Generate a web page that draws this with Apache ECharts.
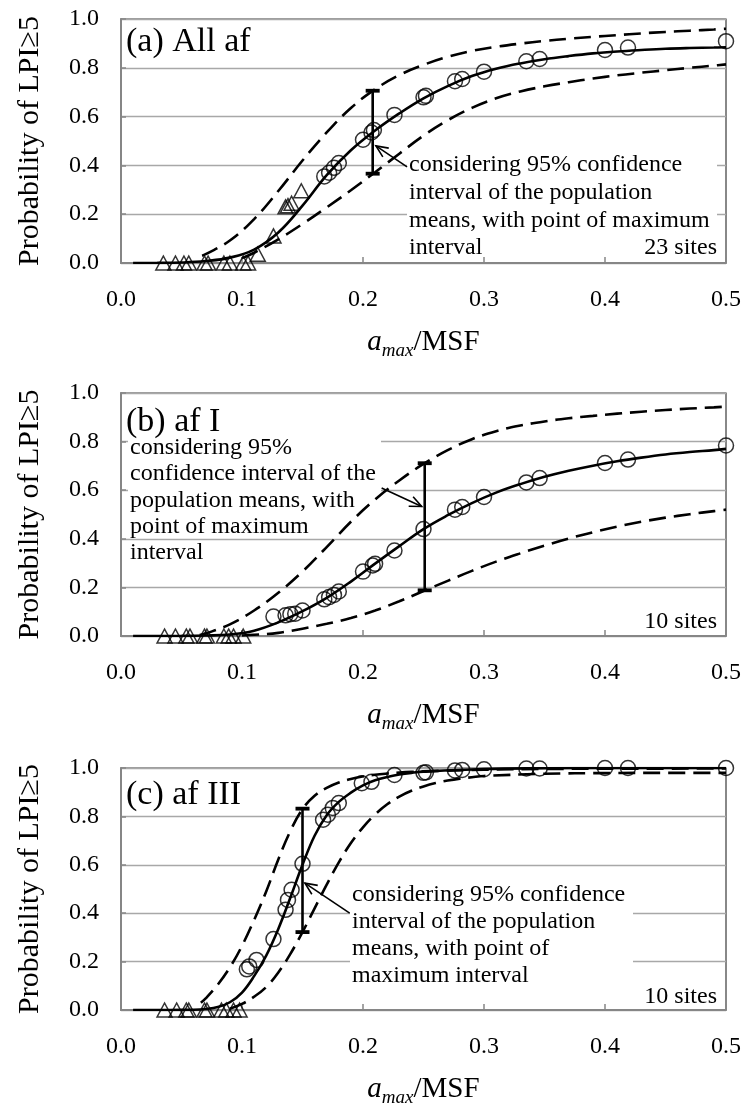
<!DOCTYPE html>
<html><head><meta charset="utf-8">
<script src="https://cdn.jsdelivr.net/npm/echarts@6/dist/echarts.min.js"></script>
<style>html,body{margin:0;padding:0;background:#fff}#c{width:746px;height:1112px}</style>
</head><body><div id="c"></div>
<script>
// ---------- data ----------
const xTicks = [0, 0.1, 0.2, 0.3, 0.4, 0.5];
const yTicks = [0, 0.2, 0.4, 0.6, 0.8, 1.0];
const panelLabels = ['(a) All af', '(b) af I', '(c) af III'];
const siteLabels = ['23 sites', '10 sites', '10 sites'];

// Panel (a)
const fitA = [[0.01,0],[0.03,0.0005],[0.05,0.002],[0.07,0.008],[0.09,0.022],[0.11,0.055],[0.13,0.125],[0.15,0.235],[0.17,0.36],[0.19,0.462],[0.21,0.543],[0.23,0.613],[0.25,0.675],[0.27,0.725],[0.29,0.766],[0.31,0.796],[0.33,0.818],[0.35,0.835],[0.37,0.848],[0.39,0.859],[0.41,0.867],[0.43,0.873],[0.45,0.878],[0.47,0.881],[0.49,0.883],[0.5,0.884]];
const upperA = [[0.067,0.03],[0.07,0.036],[0.09,0.092],[0.11,0.18],[0.13,0.295],[0.15,0.42],[0.17,0.535],[0.19,0.635],[0.21,0.712],[0.23,0.77],[0.25,0.812],[0.27,0.845],[0.29,0.869],[0.31,0.886],[0.33,0.899],[0.35,0.91],[0.37,0.919],[0.39,0.927],[0.41,0.934],[0.43,0.941],[0.45,0.947],[0.47,0.952],[0.49,0.957],[0.5,0.96]];
const lowerA = [[0.1,0.02],[0.11,0.042],[0.13,0.097],[0.15,0.16],[0.17,0.228],[0.19,0.298],[0.21,0.372],[0.23,0.448],[0.25,0.522],[0.27,0.585],[0.29,0.636],[0.31,0.675],[0.33,0.703],[0.35,0.724],[0.37,0.741],[0.39,0.756],[0.41,0.769],[0.43,0.78],[0.45,0.79],[0.47,0.8],[0.49,0.809],[0.5,0.814]];
const circlesA = [[0.168,0.355],[0.172,0.37],[0.176,0.39],[0.18,0.41],[0.2,0.505],[0.207,0.535],[0.209,0.545],[0.226,0.607],[0.25,0.679],[0.252,0.685],[0.276,0.745],[0.282,0.754],[0.3,0.784],[0.335,0.827],[0.346,0.836],[0.4,0.873],[0.419,0.883],[0.5,0.909]];
const trianglesA = [[0.035,0],[0.045,0],[0.052,0],[0.056,0],[0.069,0],[0.072,0],[0.085,0],[0.09,0],[0.101,0],[0.105,0],[0.113,0.036],[0.126,0.111],[0.136,0.23],[0.138,0.235],[0.141,0.245],[0.149,0.296]];
const errA = [[0.208, 0.366, 0.706]];
const arrowA = [[0.2364, 0.394, 0.2107, 0.48]];

// Panel (b)
const fitB = [[0.01,0],[0.03,0.0002],[0.05,0.0005],[0.07,0.002],[0.09,0.006],[0.11,0.022],[0.13,0.056],[0.15,0.102],[0.17,0.157],[0.19,0.224],[0.21,0.298],[0.23,0.37],[0.25,0.44],[0.27,0.497],[0.29,0.547],[0.31,0.59],[0.33,0.625],[0.35,0.655],[0.37,0.68],[0.39,0.701],[0.41,0.719],[0.43,0.734],[0.45,0.747],[0.47,0.757],[0.49,0.765],[0.5,0.77]];
const upperB = [[0.065,0.004],[0.07,0.01],[0.09,0.048],[0.11,0.105],[0.13,0.178],[0.15,0.265],[0.17,0.366],[0.19,0.47],[0.21,0.562],[0.23,0.64],[0.25,0.708],[0.27,0.765],[0.29,0.81],[0.31,0.843],[0.33,0.866],[0.35,0.883],[0.37,0.896],[0.39,0.906],[0.41,0.915],[0.43,0.923],[0.45,0.93],[0.47,0.936],[0.49,0.941],[0.5,0.944]];
const lowerB = [[0.1,0.002],[0.11,0.005],[0.13,0.013],[0.15,0.03],[0.17,0.05],[0.19,0.074],[0.21,0.105],[0.23,0.143],[0.25,0.185],[0.27,0.227],[0.29,0.268],[0.31,0.306],[0.33,0.34],[0.35,0.372],[0.37,0.401],[0.39,0.427],[0.41,0.45],[0.43,0.47],[0.45,0.487],[0.47,0.501],[0.49,0.514],[0.5,0.52]];
const circlesB = [[0.126,0.08],[0.136,0.085],[0.14,0.09],[0.144,0.092],[0.15,0.105],[0.168,0.151],[0.172,0.16],[0.176,0.169],[0.18,0.183],[0.2,0.265],[0.208,0.29],[0.21,0.297],[0.226,0.352],[0.25,0.44],[0.276,0.52],[0.282,0.531],[0.3,0.572],[0.335,0.632],[0.346,0.65],[0.4,0.712],[0.419,0.726],[0.5,0.784]];
const trianglesB = [[0.036,0],[0.045,0],[0.054,0],[0.057,0],[0.069,0],[0.071,0],[0.085,0],[0.089,0],[0.093,0],[0.101,0]];
const errB = [[0.251, 0.188, 0.711]];
const arrowB = [[0.2154, 0.609, 0.2485, 0.533]];

// Panel (c)
const fitC = [[0.01,0],[0.03,0.0002],[0.05,0.0005],[0.06,0.001],[0.07,0.004],[0.08,0.012],[0.09,0.032],[0.1,0.072],[0.11,0.14],[0.12,0.225],[0.13,0.335],[0.14,0.465],[0.15,0.6],[0.16,0.72],[0.17,0.805],[0.18,0.86],[0.19,0.898],[0.2,0.928],[0.21,0.949],[0.22,0.963],[0.23,0.973],[0.24,0.98],[0.25,0.985],[0.3,0.996],[0.35,0.999],[0.4,1],[0.45,1],[0.5,1]];
const upperC = [[0.066,0.03],[0.07,0.048],[0.08,0.105],[0.09,0.176],[0.1,0.265],[0.11,0.372],[0.12,0.49],[0.13,0.622],[0.14,0.74],[0.15,0.83],[0.16,0.885],[0.17,0.918],[0.18,0.94],[0.19,0.955],[0.2,0.965],[0.21,0.972],[0.22,0.977],[0.23,0.981],[0.24,0.984],[0.25,0.986],[0.3,0.993],[0.35,0.996],[0.4,0.997],[0.5,0.998]];
const lowerC = [[0.09,0.005],[0.1,0.025],[0.11,0.055],[0.12,0.095],[0.13,0.155],[0.14,0.232],[0.15,0.322],[0.16,0.42],[0.17,0.518],[0.18,0.61],[0.19,0.69],[0.2,0.755],[0.21,0.808],[0.22,0.85],[0.23,0.882],[0.24,0.906],[0.25,0.924],[0.26,0.938],[0.27,0.948],[0.28,0.956],[0.29,0.962],[0.3,0.967],[0.35,0.976],[0.4,0.979],[0.45,0.98],[0.5,0.98]];
const circlesC = [[0.104,0.168],[0.106,0.18],[0.112,0.207],[0.126,0.293],[0.136,0.414],[0.138,0.455],[0.141,0.497],[0.15,0.604],[0.167,0.786],[0.171,0.807],[0.175,0.835],[0.18,0.855],[0.199,0.937],[0.207,0.943],[0.226,0.971],[0.25,0.98],[0.252,0.982],[0.276,0.99],[0.282,0.992],[0.3,0.995],[0.335,0.998],[0.346,0.998],[0.4,1],[0.419,1],[0.5,1]];
const trianglesC = [[0.036,0],[0.046,0],[0.054,0],[0.056,0],[0.069,0],[0.071,0],[0.083,0],[0.087,0],[0.093,0],[0.098,0]];
const errC = [[0.15, 0.322, 0.832]];
const arrowC = [[0.189, 0.40, 0.152, 0.524]];

const noteA = 'considering 95% confidence\ninterval of the population\nmeans, with point of maximum\ninterval';
const noteB = 'considering 95%\nconfidence interval of the\npopulation means, with\npoint of maximum\ninterval';
const noteC = 'considering 95% confidence\ninterval of the population\nmeans, with point of\nmaximum interval';

// ---------- chart ----------
const FONT = '"Liberation Serif", "Times New Roman", serif';
const chart = echarts.init(document.getElementById('c'), null, {renderer: 'canvas'});
const grids = [
  {left:121, width:605, top:19, height:244},
  {left:121, width:605, top:393, height:243},
  {left:121, width:605, top:768, height:242}
].map(g => Object.assign(g, {show:true, borderColor:'#3a3a3a', borderWidth:1.2, backgroundColor:'transparent'}));

const xAxes = [0,1,2].map(i => ({
  type:'value', gridIndex:i, min:xTicks[0], max:xTicks[xTicks.length-1], interval:0.1,
  axisLine:{lineStyle:{color:'#868686', width:2}},
  axisTick:{inside:true, length:6, lineStyle:{color:'#868686', width:1.5}},
  splitLine:{show:false},
  axisLabel:{formatter:v=>v.toFixed(1), fontSize:24, fontFamily:FONT, color:'#000', margin:25},
  name:'{i|a}{s|max}{n|/MSF}', nameLocation:'middle', nameGap:62,
  nameTextStyle:{color:'#000', fontFamily:FONT, rich:{
    i:{fontSize:29, fontStyle:'italic', fontFamily:FONT, color:'#000'},
    s:{fontSize:19, fontStyle:'italic', fontFamily:FONT, color:'#000', padding:[16,0,0,0]},
    n:{fontSize:29, fontFamily:FONT, color:'#000'}}}
}));
const yAxes = [0,1,2].map(i => ({
  type:'value', gridIndex:i, min:yTicks[0], max:yTicks[yTicks.length-1], interval:0.2,
  axisLine:{show:true, lineStyle:{color:'#868686', width:2}},
  axisTick:{show:true, inside:true, length:5, lineStyle:{color:'#868686', width:1.5}},
  splitLine:{show:true, lineStyle:{color:'#a8a8a8', width:1.3}},
  axisLabel:{formatter:v=>v.toFixed(1), fontSize:24, fontFamily:FONT, color:'#000', margin:22},
  name:'Probability of LPI≥5', nameLocation:'middle', nameGap:76,
  nameTextStyle:{fontSize:30, fontFamily:FONT, color:'#000'}
}));

function errRender(params, api){
  const x = api.value(0), lo = api.coord([x, api.value(1)]), hi = api.coord([x, api.value(2)]);
  const w = 7;
  return {type:'group', children:[
    {type:'line', shape:{x1:lo[0], y1:lo[1], x2:hi[0], y2:hi[1]}, style:{stroke:'#000', lineWidth:2.6}},
    {type:'line', shape:{x1:lo[0]-w, y1:lo[1], x2:lo[0]+w, y2:lo[1]}, style:{stroke:'#000', lineWidth:3.8}},
    {type:'line', shape:{x1:hi[0]-w, y1:hi[1], x2:hi[0]+w, y2:hi[1]}, style:{stroke:'#000', lineWidth:3.8}}
  ]};
}
function arrowRender(params, api){
  const p1 = api.coord([api.value(0), api.value(1)]);
  const p2 = api.coord([api.value(2), api.value(3)]);
  const ang = Math.atan2(p2[1]-p1[1], p2[0]-p1[0]);
  const L = 13, sp = 0.42;
  const a1 = [p2[0]-L*Math.cos(ang-sp), p2[1]-L*Math.sin(ang-sp)];
  const a2 = [p2[0]-L*Math.cos(ang+sp), p2[1]-L*Math.sin(ang+sp)];
  return {type:'group', children:[
    {type:'line', shape:{x1:p1[0], y1:p1[1], x2:p2[0], y2:p2[1]}, style:{stroke:'#000', lineWidth:1.6}},
    {type:'polyline', shape:{points:[a1, p2, a2]}, style:{stroke:'#000', lineWidth:1.6, fill:null}}
  ]};
}

const panels = [
  {fit:fitA, up:upperA, lo:lowerA, circ:circlesA, tri:trianglesA, err:errA, arr:arrowA},
  {fit:fitB, up:upperB, lo:lowerB, circ:circlesB, tri:trianglesB, err:errB, arr:arrowB},
  {fit:fitC, up:upperC, lo:lowerC, circ:circlesC, tri:trianglesC, err:errC, arr:arrowC}
];
const DASH = [17, 8];
const SMOOTH = 0.4;
const series = [];
panels.forEach((p, i) => {
  const ax = {xAxisIndex:i, yAxisIndex:i};
  series.push(Object.assign({type:'line', data:p.up, showSymbol:false, smooth:SMOOTH, z:3,
    lineStyle:{color:'#000', width:2.6, type:DASH}}, ax));
  series.push(Object.assign({type:'line', data:p.lo, showSymbol:false, smooth:SMOOTH, z:3,
    lineStyle:{color:'#000', width:2.6, type:DASH}}, ax));
  series.push(Object.assign({type:'line', data:p.fit, showSymbol:false, smooth:SMOOTH, z:4,
    lineStyle:{color:'#000', width:2.6}}, ax));
  series.push(Object.assign({type:'scatter', data:p.tri, symbol:'triangle', symbolSize:[15,14], clip:false, z:5,
    itemStyle:{color:'rgba(0,0,0,0)', borderColor:'#000', borderWidth:1.5}}, ax));
  series.push(Object.assign({type:'scatter', data:p.circ, symbol:'circle', symbolSize:15, clip:false, z:5,
    itemStyle:{color:'rgba(0,0,0,0)', borderColor:'#000', borderWidth:1.5}}, ax));
  series.push(Object.assign({type:'custom', data:p.err, renderItem:errRender, z:6, clip:false}, ax));
  series.push(Object.assign({type:'custom', data:p.arr, renderItem:arrowRender, z:6, clip:false}, ax));
});

function txt(text, x, y, size, opts){
  return Object.assign({type:'text', x:x, y:y, z:10, silent:true,
    style:Object.assign({text:text, fontSize:size, fontFamily:FONT, fill:'#000'}, opts||{})});
}
function whiteRect(x, y, w, h){
  return {type:'rect', z:1, silent:true, shape:{x:x, y:y, width:w, height:h}, style:{fill:'#fff'}};
}
const graphic = [
  whiteRect(407, 150, 310, 100),
  whiteRect(128, 434, 253, 101),
  whiteRect(350, 900, 283, 72),
  txt(panelLabels[0], 126, 42, 34, {verticalAlign:'middle'}),
  txt(panelLabels[1], 126, 422, 34, {verticalAlign:'middle'}),
  txt(panelLabels[2], 126, 795, 34, {verticalAlign:'middle'}),
  txt(noteA, 409, 151, 24, {lineHeight:27.7, verticalAlign:'top'}),
  txt(noteB, 130, 435, 24, {lineHeight:26.1, verticalAlign:'top'}),
  txt(noteC, 352, 881, 24, {lineHeight:27.2, verticalAlign:'top'}),
  txt(siteLabels[0], 717, 248, 24, {align:'right', verticalAlign:'middle'}),
  txt(siteLabels[1], 717, 622, 24, {align:'right', verticalAlign:'middle'}),
  txt(siteLabels[2], 717, 997, 24, {align:'right', verticalAlign:'middle'})
];

chart.setOption({
  animation:false,
  backgroundColor:'#fff',
  grid:grids, xAxis:xAxes, yAxis:yAxes, series:series, graphic:graphic
});
</script></body></html>
